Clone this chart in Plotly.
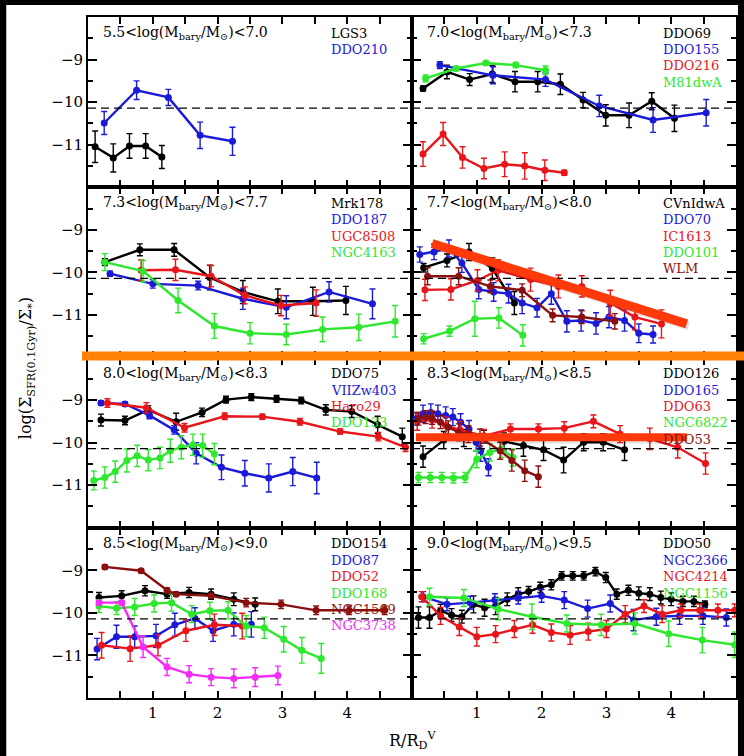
import plotly.graph_objects as go
from plotly.subplots import make_subplots

BLACK = "#000000"
BLUE = "#1a1ad8"
RED = "#e8161a"
GREEN = "#2ee82e"
DRED = "#8a1010"
MAG = "#f52cf5"

# ---------------- Panel 1: 5.5 - 7.0 ----------------
LGS3_x = [0.11, 0.39, 0.64, 0.89, 1.14]
LGS3_y = [-11.05, -11.31, -11.03, -11.03, -11.29]
LGS3_e = [0.37, 0.33, 0.29, 0.29, 0.27]
DDO210_x = [0.25, 0.75, 1.24, 1.73, 2.23]
DDO210_y = [-10.49, -9.72, -9.89, -10.78, -10.92]
DDO210_e = [0.27, 0.22, 0.19, 0.31, 0.33]

# ---------------- Panel 2: 7.0 - 7.3 ----------------
DDO69_x = [0.17, 0.54, 0.89, 1.24, 1.59, 1.94, 2.29, 2.64, 2.99, 3.35, 3.70, 4.05]
DDO69_y = [-9.68, -9.29, -9.47, -9.34, -9.52, -9.52, -9.58, -9.95, -10.31, -10.31, -9.98, -10.38]
DDO69_e = [0.06, 0.16, 0.14, 0.20, 0.24, 0.24, 0.24, 0.18, 0.25, 0.29, 0.20, 0.31]
DDO155_x = [0.43, 1.25, 2.06, 2.89, 3.72, 4.54]
DDO155_y = [-9.13, -9.37, -9.47, -10.09, -10.42, -10.25]
DDO155_e = [0.08, 0.20, 0.16, 0.25, 0.29, 0.31]
DDO216_x = [0.17, 0.48, 0.78, 1.11, 1.43, 1.74, 2.05, 2.35]
DDO216_y = [-11.22, -10.75, -11.30, -11.56, -11.46, -11.50, -11.60, -11.66]
DDO216_e = [0.29, 0.27, 0.25, 0.24, 0.29, 0.31, 0.24, 0.06]
M81dwA_x = [0.21, 0.68, 1.14, 1.60, 2.06]
M81dwA_y = [-9.44, -9.21, -9.08, -9.13, -9.25]
M81dwA_e = [0.08, 0.05, 0.05, 0.06, 0.10]

# ---------------- Panel 3: 7.3 - 7.7 ----------------
Mrk178_x = [0.26, 0.80, 1.33, 1.88, 2.39, 2.93, 3.47, 3.98]
Mrk178_y = [-9.76, -9.47, -9.47, -10.12, -10.46, -10.68, -10.68, -10.66]
Mrk178_e = [0.08, 0.14, 0.15, 0.29, 0.27, 0.29, 0.33, 0.33]
DDO187_x = [0.34, 1.00, 1.70, 2.39, 3.06, 3.72, 4.39]
DDO187_y = [-10.03, -10.27, -10.31, -10.62, -10.82, -10.46, -10.74]
DDO187_e = [0.06, 0.10, 0.10, 0.25, 0.27, 0.24, 0.35]
UGC8508_x = [0.82, 1.35, 1.90, 2.42, 2.98, 3.52]
UGC8508_y = [-9.95, -9.94, -10.09, -10.54, -10.78, -10.72]
UGC8508_e = [0.24, 0.25, 0.25, 0.20, 0.24, 0.31]
NGC4163_x = [0.26, 0.85, 1.39, 1.95, 2.50, 3.06, 3.62, 4.18, 4.74]
NGC4163_y = [-9.76, -9.97, -10.66, -11.26, -11.43, -11.46, -11.34, -11.29, -11.15]
NGC4163_e = [0.20, 0.25, 0.29, 0.29, 0.25, 0.24, 0.29, 0.31, 0.37]

# ---------------- Panel 4: 7.7 - 8.0 ----------------
CVnIdwA_x = [0.18, 0.54, 0.88, 1.24, 1.58]
CVnIdwA_y = [-9.89, -9.72, -9.52, -9.91, -10.72]
CVnIdwA_e = [0.10, 0.15, 0.20, 0.25, 0.27]
DDO70_x = [0.12, 0.34, 0.57, 0.77, 1.03, 1.26, 1.49, 1.70, 1.93, 2.15, 2.39, 2.61, 2.84, 3.04, 3.28, 3.50, 3.72]
DDO70_y = [-9.58, -9.52, -9.44, -9.78, -10.40, -10.46, -10.50, -10.72, -10.83, -10.50, -11.15, -11.13, -11.20, -11.05, -11.13, -11.43, -11.46]
DDO70_e = [0.18, 0.18, 0.20, 0.22, 0.22, 0.22, 0.22, 0.25, 0.22, 0.25, 0.25, 0.25, 0.25, 0.25, 0.25, 0.22, 0.20]
IC1613_x = [0.20, 0.60, 1.01, 1.33, 1.83, 2.26, 2.62, 3.06, 3.44, 3.85]
IC1613_y = [-10.41, -10.40, -10.19, -9.95, -10.17, -10.33, -10.33, -10.72, -11.05, -11.21]
IC1613_e = [0.25, 0.25, 0.25, 0.25, 0.27, 0.27, 0.25, 0.30, 0.30, 0.33]
DDO101_x = [0.18, 0.58, 0.97, 1.34, 1.71]
DDO101_y = [-11.56, -11.38, -11.09, -11.07, -11.48]
DDO101_e = [0.12, 0.12, 0.41, 0.24, 0.25]
WLM_x = [0.24, 0.72, 1.21, 1.70, 2.17, 2.62, 3.13]
WLM_y = [-10.09, -10.09, -10.33, -10.42, -11.01, -11.05, -11.15]
WLM_e = [0.20, 0.20, 0.15, 0.15, 0.15, 0.15, 0.18]

# ---------------- Panel 5: 8.0 - 8.3 ----------------
DDO75_x = [0.20, 0.57, 0.93, 1.36, 1.76, 2.13, 2.52, 2.91, 3.29, 3.67, 4.07, 4.47, 4.85]
DDO75_y = [-9.47, -9.48, -9.23, -9.51, -9.29, -8.99, -8.93, -8.97, -9.01, -9.23, -9.27, -9.58, -9.86]
DDO75_e = [0.14, 0.10, 0.10, 0.20, 0.10, 0.08, 0.08, 0.08, 0.08, 0.12, 0.14, 0.20, 0.20]
VIIZw403_x = [0.20, 0.57, 0.95, 1.33, 1.67, 2.06, 2.42, 2.79, 3.16, 3.53]
VIIZw403_y = [-9.07, -9.09, -9.36, -9.70, -10.25, -10.58, -10.72, -10.83, -10.68, -10.83]
VIIZw403_e = [0.05, 0.05, 0.08, 0.10, 0.25, 0.29, 0.30, 0.33, 0.33, 0.37]
Haro29_x = [0.30, 0.90, 1.49, 2.11, 2.69, 3.27, 3.89, 4.48, 4.90]
Haro29_y = [-9.07, -9.18, -9.65, -9.38, -9.39, -9.51, -9.74, -9.86, -10.11]
Haro29_e = [0.10, 0.12, 0.10, 0.08, 0.06, 0.08, 0.06, 0.10, 0.10]
DDO133_x = [0.09, 0.26, 0.42, 0.60, 0.76, 0.93, 1.11, 1.27, 1.44, 1.62, 1.77, 1.95]
DDO133_y = [-10.89, -10.82, -10.68, -10.42, -10.31, -10.41, -10.36, -10.19, -10.11, -10.05, -10.07, -10.27]
DDO133_e = [0.22, 0.25, 0.25, 0.27, 0.25, 0.25, 0.25, 0.27, 0.27, 0.25, 0.27, 0.25]

# ---------------- Panel 6: 8.3 - 8.5 ----------------
DDO126_x = [0.17, 0.49, 0.80, 1.11, 1.42, 1.72, 2.03, 2.34, 2.65, 2.95, 3.28]
DDO126_y = [-10.33, -9.94, -9.89, -9.86, -9.97, -10.07, -10.17, -10.41, -9.99, -9.99, -10.17]
DDO126_e = [0.25, 0.20, 0.20, 0.15, 0.20, 0.25, 0.25, 0.30, 0.20, 0.20, 0.25]
DDO165_x = [0.06, 0.17, 0.29, 0.40, 0.52, 0.63, 0.75, 0.88, 0.99, 1.06, 1.18]
DDO165_y = [-9.44, -9.32, -9.29, -9.32, -9.36, -9.40, -9.52, -9.68, -9.99, -10.19, -10.58]
DDO165_e = [0.15, 0.20, 0.20, 0.20, 0.20, 0.20, 0.20, 0.20, 0.20, 0.25, 0.20]
DDO63_x = [0.08, 0.31, 0.52, 0.74, 1.11, 1.52, 1.95, 2.35, 2.80, 3.21, 3.67, 4.10, 4.53]
DDO63_y = [-9.51, -9.46, -9.60, -9.70, -9.84, -9.68, -9.68, -9.66, -9.50, -9.80, -9.91, -10.11, -10.49]
DDO63_e = [0.20, 0.20, 0.20, 0.20, 0.15, 0.12, 0.12, 0.15, 0.15, 0.20, 0.25, 0.25, 0.25]
NGC6822_x = [0.10, 0.28, 0.46, 0.64, 0.82, 1.00, 1.20, 1.38, 1.56]
NGC6822_y = [-10.82, -10.82, -10.82, -10.83, -10.82, -10.39, -10.23, -10.15, -10.35]
NGC6822_e = [0.12, 0.12, 0.12, 0.12, 0.12, 0.20, 0.20, 0.20, 0.20]
DDO53_x = [0.10, 0.21, 0.31, 0.44, 0.56, 0.72, 0.87, 1.05, 1.36, 1.54, 1.74, 1.95]
DDO53_y = [-9.44, -9.40, -9.42, -9.52, -9.64, -9.76, -9.80, -9.88, -10.19, -10.42, -10.66, -10.80]
DDO53_e = [0.15, 0.15, 0.15, 0.15, 0.15, 0.20, 0.20, 0.20, 0.20, 0.25, 0.25, 0.25]

# ---------------- Panel 7: 8.5 - 9.0 ----------------
DDO154_x = [0.17, 0.52, 0.88, 1.22, 1.56, 1.90, 2.25, 2.58]
DDO154_y = [-9.64, -9.60, -9.48, -9.56, -9.52, -9.56, -9.68, -9.80]
DDO154_e = [0.12, 0.12, 0.12, 0.10, 0.12, 0.12, 0.15, 0.15]
DDO87_x = [0.14, 0.44, 0.72, 1.05, 1.34, 1.65, 1.93, 2.25, 2.52]
DDO87_y = [-10.85, -10.56, -10.56, -10.54, -10.28, -10.13, -10.42, -10.27, -10.27]
DDO87_e = [0.25, 0.27, 0.25, 0.27, 0.27, 0.25, 0.25, 0.27, 0.30]
DDO52_x = [0.21, 0.65, 1.08, 1.51, 1.95, 2.38]
DDO52_y = [-10.76, -10.84, -10.76, -10.42, -10.28, -10.31]
DDO52_e = [0.30, 0.30, 0.25, 0.25, 0.25, 0.30]
DDO168_x = [0.17, 0.44, 0.72, 1.02, 1.29, 1.60, 1.88, 2.16, 2.44, 2.72, 3.02, 3.30, 3.60]
DDO168_y = [-9.84, -9.89, -9.86, -9.78, -9.76, -10.03, -9.95, -9.94, -10.31, -10.35, -10.62, -10.88, -11.07]
DDO168_e = [0.15, 0.15, 0.20, 0.20, 0.20, 0.20, 0.20, 0.20, 0.25, 0.25, 0.30, 0.30, 0.35]
NGC1569_x = [0.26, 0.82, 1.22, 1.36, 1.90, 2.44, 2.98, 3.52, 4.03, 4.58]
NGC1569_y = [-8.92, -9.01, -9.47, -9.56, -9.60, -9.76, -9.80, -9.94, -9.94, -9.94]
NGC1569_e = [0.05, 0.05, 0.05, 0.05, 0.05, 0.10, 0.10, 0.10, 0.10, 0.10]
NGC3738_x = [0.17, 0.52, 0.85, 1.22, 1.56, 1.90, 2.25, 2.58, 2.93]
NGC3738_y = [-9.76, -9.76, -10.80, -11.27, -11.44, -11.51, -11.54, -11.51, -11.47]
NGC3738_e = [0.05, 0.05, 0.25, 0.20, 0.20, 0.20, 0.22, 0.22, 0.22]

# ---------------- Panel 8: 9.0 - 9.5 ----------------
DDO50_x = [0.10, 0.27, 0.44, 0.61, 0.77, 0.95, 1.12, 1.29, 1.47, 1.64, 1.80, 1.98, 2.15, 2.31,
           2.48, 2.65, 2.83, 2.99, 3.16, 3.34, 3.50, 3.67, 3.84, 4.00, 4.18, 4.35, 4.52]
DDO50_y = [-10.11, -10.11, -9.95, -10.05, -10.09, -9.80, -9.88, -9.84, -9.68, -9.56, -9.50, -9.40, -9.34, -9.13,
           -9.13, -9.13, -9.03, -9.17, -9.56, -9.47, -9.54, -9.56, -9.64, -9.68, -9.73, -9.73, -9.80]
DDO50_e = [0.25, 0.25, 0.15, 0.15, 0.15, 0.2, 0.2, 0.2, 0.15, 0.15, 0.12, 0.12, 0.12, 0.1,
           0.1, 0.1, 0.1, 0.12, 0.12, 0.12, 0.15, 0.15, 0.15, 0.15, 0.12, 0.12, 0.08]
NGC2366_x = [0.17, 0.54, 0.90, 1.28, 1.64, 2.00, 2.35, 2.71, 3.06, 3.42, 3.77, 4.13, 4.49, 4.85]
NGC2366_y = [-9.62, -9.80, -9.76, -9.70, -9.64, -9.60, -9.70, -9.90, -9.78, -10.17, -10.09, -10.07, -10.07, -10.11]
NGC2366_e = [0.12, 0.15, 0.15, 0.15, 0.15, 0.15, 0.2, 0.2, 0.2, 0.25, 0.2, 0.2, 0.2, 0.2]
NGC4214_x = [0.15, 0.44, 0.73, 1.00, 1.29, 1.58, 1.86, 2.15, 2.44, 2.72, 3.00, 3.29, 3.58, 3.86, 4.15, 4.44, 4.72, 4.98]
NGC4214_y = [-9.62, -10.07, -10.33, -10.56, -10.50, -10.38, -10.28, -10.46, -10.52, -10.44, -10.38, -10.03, -9.84, -10.03, -9.94, -9.94, -9.94, -9.94]
NGC4214_e = [0.12, 0.2, 0.2, 0.22, 0.2, 0.2, 0.2, 0.2, 0.22, 0.2, 0.2, 0.2, 0.15, 0.2, 0.15, 0.15, 0.15, 0.15]
NGC1156_x = [0.27, 0.80, 1.33, 1.85, 2.39, 2.92, 3.44, 3.96, 4.48, 4.98]
NGC1156_y = [-9.62, -9.65, -9.91, -10.09, -10.25, -10.28, -10.25, -10.49, -10.64, -10.75]
NGC1156_e = [0.20, 0.20, 0.25, 0.30, 0.20, 0.25, 0.25, 0.30, 0.30, 0.30]

mass_bins = [("5.5", "7.0"), ("7.0", "7.3"), ("7.3", "7.7"), ("7.7", "8.0"),
             ("8.0", "8.3"), ("8.3", "8.5"), ("8.5", "9.0"), ("9.0", "9.5")]

panels = [
    [("LGS3", BLACK, LGS3_x, LGS3_y, LGS3_e), ("DDO210", BLUE, DDO210_x, DDO210_y, DDO210_e)],
    [("DDO69", BLACK, DDO69_x, DDO69_y, DDO69_e), ("DDO155", BLUE, DDO155_x, DDO155_y, DDO155_e),
     ("DDO216", RED, DDO216_x, DDO216_y, DDO216_e), ("M81dwA", GREEN, M81dwA_x, M81dwA_y, M81dwA_e)],
    [("Mrk178", BLACK, Mrk178_x, Mrk178_y, Mrk178_e), ("DDO187", BLUE, DDO187_x, DDO187_y, DDO187_e),
     ("UGC8508", RED, UGC8508_x, UGC8508_y, UGC8508_e), ("NGC4163", GREEN, NGC4163_x, NGC4163_y, NGC4163_e)],
    [("CVnIdwA", BLACK, CVnIdwA_x, CVnIdwA_y, CVnIdwA_e), ("DDO70", BLUE, DDO70_x, DDO70_y, DDO70_e),
     ("IC1613", RED, IC1613_x, IC1613_y, IC1613_e), ("DDO101", GREEN, DDO101_x, DDO101_y, DDO101_e),
     ("WLM", DRED, WLM_x, WLM_y, WLM_e)],
    [("DDO75", BLACK, DDO75_x, DDO75_y, DDO75_e), ("VIIZw403", BLUE, VIIZw403_x, VIIZw403_y, VIIZw403_e),
     ("Haro29", RED, Haro29_x, Haro29_y, Haro29_e), ("DDO133", GREEN, DDO133_x, DDO133_y, DDO133_e)],
    [("DDO126", BLACK, DDO126_x, DDO126_y, DDO126_e), ("DDO165", BLUE, DDO165_x, DDO165_y, DDO165_e),
     ("DDO63", RED, DDO63_x, DDO63_y, DDO63_e), ("NGC6822", GREEN, NGC6822_x, NGC6822_y, NGC6822_e),
     ("DDO53", DRED, DDO53_x, DDO53_y, DDO53_e)],
    [("DDO154", BLACK, DDO154_x, DDO154_y, DDO154_e), ("DDO87", BLUE, DDO87_x, DDO87_y, DDO87_e),
     ("DDO52", RED, DDO52_x, DDO52_y, DDO52_e), ("DDO168", GREEN, DDO168_x, DDO168_y, DDO168_e),
     ("NGC1569", DRED, NGC1569_x, NGC1569_y, NGC1569_e), ("NGC3738", MAG, NGC3738_x, NGC3738_y, NGC3738_e)],
    [("DDO50", BLACK, DDO50_x, DDO50_y, DDO50_e), ("NGC2366", BLUE, NGC2366_x, NGC2366_y, NGC2366_e),
     ("NGC4214", RED, NGC4214_x, NGC4214_y, NGC4214_e), ("NGC1156", GREEN, NGC1156_x, NGC1156_y, NGC1156_e)],
]

y_ticks = [-11, -10, -9]
y_tick_text = ["\u221211", "\u221210", "\u22129"]
x_ticks = [0.5, 1, 1.5, 2, 2.5, 3, 3.5, 4, 4.5]
x_tick_text = ["", "1", "", "2", "", "3", "", "4", ""]
HUBBLE = -10.14  # dashed reference level

W, H = 744, 756
ML, MR, MT, MB = 88, 6, 17, 58
FONT = "DejaVu Serif"

fig = make_subplots(rows=4, cols=2, horizontal_spacing=0, vertical_spacing=0)

for i, series in enumerate(panels):
    r, c = i // 2 + 1, i % 2 + 1
    for name, col, xs, ys, es in series:
        fig.add_trace(go.Scatter(
            x=xs, y=ys, mode="lines+markers", name=name, showlegend=False,
            line=dict(color=col, width=2.4),
            marker=dict(color=col, size=7),
            error_y=dict(type="data", array=es, color=col, thickness=1.4, width=3),
        ), row=r, col=c)
    # dashed reference line
    fig.add_shape(type="line", x0=0, x1=1, xref="x domain", y0=HUBBLE, y1=HUBBLE,
                  line=dict(color="black", width=1.4, dash="8px,5px"), row=r, col=c)
    lo, hi = mass_bins[i]
    fig.add_annotation(x=0.2, y=-8.38, xanchor="left", yanchor="middle", showarrow=False,
                       text=f"{lo}&lt;log(M<sub>bary</sub>/M<sub>\u2299</sub>)&lt;{hi}",
                       font=dict(family=FONT, size=14, color="black"), row=r, col=c)
    nx = 3.72 if c == 1 else 3.85
    for k, (name, col, *_ ) in enumerate(series):
        fig.add_annotation(x=nx, y=-8.38 - 0.385 * k, xanchor="left", yanchor="middle",
                           showarrow=False, text=name,
                           font=dict(family=FONT, size=13, color=col), row=r, col=c)
    fig.update_xaxes(range=[0, 5], tickvals=x_ticks, ticktext=x_tick_text,
                     showticklabels=(r == 4), ticks="inside", ticklen=7, tickwidth=1.5,
                     tickcolor="black", showline=True, linecolor="black", linewidth=2,
                     mirror="allticks", showgrid=False, zeroline=False,
                     tickfont=dict(family=FONT, size=15, color="black"), row=r, col=c)
    fig.update_yaxes(range=[-12, -8], tickvals=y_ticks, ticktext=y_tick_text,
                     showticklabels=(c == 1), ticks="inside", ticklen=9, tickwidth=1.5,
                     tickcolor="black", showline=True, linecolor="black", linewidth=2,
                     mirror="allticks", showgrid=False, zeroline=False,
                     minor=dict(tickvals=[-11.5, -10.5, -9.5, -8.5], ticks="inside",
                                ticklen=5, tickwidth=1.5, tickcolor="black"),
                     tickfont=dict(family=FONT, size=15, color="black"), row=r, col=c)

# highlighting overlays (drawn on top in the reference)
SHADOW = "rgba(0,0,0,0.10)"
LINE_RED = "#ff3a0a"
fig.add_shape(type="line", x0=0.34, x1=4.27, y0=-9.37, y1=-11.26, line=dict(color=SHADOW, width=9),
              row=2, col=2)
fig.add_shape(type="line", x0=0.31, x1=4.24, y0=-9.32, y1=-11.21, line=dict(color=LINE_RED, width=9),
              row=2, col=2)
fig.add_shape(type="line", x0=0.08, x1=4.26, y0=-9.92, y1=-9.92, line=dict(color=SHADOW, width=9),
              row=3, col=2)
fig.add_shape(type="line", x0=0.06, x1=4.24, y0=-9.875, y1=-9.875, line=dict(color=LINE_RED, width=8),
              row=3, col=2)

def px_x(p):
    return (p - ML) / (W - ML - MR)

def px_y(p):
    return 1 - (p - MT) / (H - MT - MB)

fig.add_shape(type="line", xref="paper", yref="paper", x0=px_x(82), x1=px_x(748),
              y0=px_y(356), y1=px_y(356), line=dict(color="#ff8205", width=9))

# white page on black frame
fig.add_shape(type="rect", xref="paper", yref="paper", x0=px_x(6), x1=px_x(740),
              y0=px_y(760), y1=px_y(5), fillcolor="white", line=dict(width=0), layer="below")

fig.add_annotation(xref="paper", yref="paper", x=px_x(26), y=px_y(368), textangle=-90,
                   showarrow=False, xanchor="center", yanchor="middle",
                   text="log(\u03a3<sub>SFR(0.1Gyr)</sub>/\u03a3<sub>*</sub>)",
                   font=dict(family=FONT, size=16, color="black"))
fig.add_annotation(xref="paper", yref="paper", x=px_x(413), y=px_y(740),
                   showarrow=False, xanchor="center", yanchor="middle",
                   text="R/R<sub>D</sub><sup>V</sup>",
                   font=dict(family=FONT, size=16, color="black"))

fig.update_layout(width=W, height=H, margin=dict(l=ML, r=MR, t=MT, b=MB),
                  paper_bgcolor="black", plot_bgcolor="white", showlegend=False)

fig.write_html("out.html", config={"displayModeBar": False},
               post_script="document.body.style.margin='0';document.body.style.background='black';"
                           "document.body.style.overflow='hidden';")
